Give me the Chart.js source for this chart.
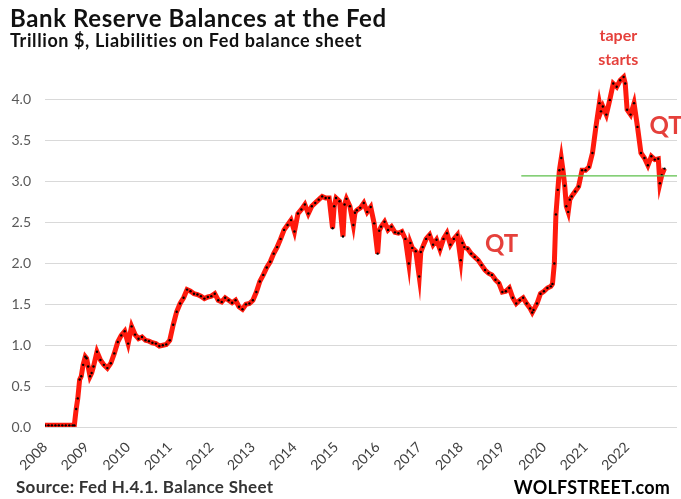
<!DOCTYPE html>
<html>
<head>
<meta charset="utf-8">
<script src="https://cdn.jsdelivr.net/npm/chart.js@4/dist/chart.umd.min.js"></script>
<style>
  html, body { margin: 0; padding: 0; background: #fff; }
  #wrap { position: relative; width: 681px; height: 499px; overflow: hidden; font-family: Lato, "Open Sans", sans-serif; }
  #chart { position: absolute; left: 0; top: 0; }
  .txt { position: absolute; white-space: nowrap; line-height: 1; font-weight: bold; }
  #title { left: 10px; top: 6px; font-size: 24px; letter-spacing: 0.6px; color: #111; }
  #subtitle { left: 10px; top: 31px; font-size: 18px; letter-spacing: 0.6px; color: #111; }
  #source { left: 16px; top: 478px; font-size: 17px; letter-spacing: 0.3px; color: #333; }
  #brand { right: 11px; top: 478px; font-size: 18px; letter-spacing: 0.2px; color: #000; }
</style>
</head>
<body>
<div id="wrap">
  <canvas id="chart" width="681" height="499"></canvas>
  <div class="txt" id="title">Bank Reserve Balances at the Fed</div>
  <div class="txt" id="subtitle">Trillion $, Liabilities on Fed balance sheet</div>
  <div class="txt" id="source">Source: Fed H.4.1. Balance Sheet</div>
  <div class="txt" id="brand">WOLFSTREET.com</div>
</div>
<script>
// ====== データ（週次の読み取り値を月ごとに間引いたもの、兆ドル） ======
const dates = [
  '2008-01-01','2008-02-01','2008-03-01','2008-04-01','2008-05-01','2008-06-01','2008-07-01','2008-08-01','2008-09-01','2008-09-15',
  '2008-10-01','2008-10-15','2008-11-01','2008-11-15','2008-12-01','2008-12-20',
  '2009-01-01','2009-01-15','2009-02-01','2009-02-15','2009-03-01','2009-04-01','2009-05-01','2009-06-01','2009-07-01','2009-08-01','2009-09-01','2009-10-01','2009-11-01','2009-12-01',
  '2010-01-01','2010-02-01','2010-03-01','2010-04-01','2010-05-01','2010-06-01','2010-07-01','2010-08-01','2010-09-01','2010-10-01','2010-11-01','2010-12-01',
  '2011-01-01','2011-02-01','2011-03-01','2011-04-01','2011-05-01','2011-06-01','2011-07-01','2011-08-01','2011-09-01','2011-10-01','2011-11-01','2011-12-01',
  '2012-01-01','2012-02-01','2012-03-01','2012-04-01','2012-05-01','2012-06-01','2012-07-01','2012-08-01','2012-09-01','2012-10-01','2012-11-01','2012-12-01',
  '2013-01-01','2013-02-01','2013-03-01','2013-04-01','2013-05-01','2013-06-01','2013-07-01','2013-08-01','2013-09-01','2013-10-01','2013-11-01','2013-12-01',
  '2014-01-01','2014-02-01','2014-03-01','2014-04-01','2014-05-01','2014-06-01','2014-07-01','2014-08-01','2014-09-01','2014-10-01','2014-11-01','2014-12-01','2014-12-15',
  '2015-01-01','2015-02-01','2015-03-01','2015-03-15','2015-04-01','2015-05-01','2015-06-01','2015-06-15','2015-07-01','2015-08-01','2015-09-01','2015-10-01','2015-11-01','2015-12-01',
  '2016-01-01','2016-01-15','2016-02-01','2016-03-01','2016-04-01','2016-05-01','2016-06-01','2016-07-01','2016-08-01','2016-09-01','2016-10-01','2016-10-15','2016-11-01','2016-12-01',
  '2017-01-01','2017-01-15','2017-02-01','2017-03-01','2017-04-01','2017-05-01','2017-06-01','2017-07-01','2017-08-01','2017-09-01','2017-10-01','2017-11-01','2017-12-01',
  '2018-01-01','2018-01-15','2018-02-01','2018-03-01','2018-04-01','2018-05-01','2018-06-01','2018-07-01','2018-08-01','2018-09-01','2018-10-01','2018-11-01','2018-12-01',
  '2019-01-01','2019-02-01','2019-03-01','2019-04-01','2019-05-01','2019-06-01','2019-07-01','2019-08-01','2019-09-01','2019-09-20','2019-10-01','2019-11-01','2019-12-01',
  '2020-01-01','2020-02-01','2020-03-01','2020-03-15','2020-04-01','2020-04-15','2020-05-01','2020-05-15','2020-06-01','2020-06-15','2020-07-01','2020-07-15','2020-08-01','2020-08-15','2020-09-01','2020-10-01','2020-11-01','2020-12-01',
  '2021-01-01','2021-02-01','2021-03-01','2021-04-01','2021-05-01','2021-05-15','2021-06-01','2021-07-01','2021-08-01','2021-09-01','2021-10-01','2021-11-01','2021-12-01','2021-12-15',
  '2022-01-01','2022-02-01','2022-03-01','2022-04-01','2022-05-01','2022-06-01','2022-07-01','2022-08-01','2022-09-01','2022-10-01','2022-10-15','2022-11-01','2022-11-25'
];
const reserves = [
  0.02,0.02,0.02,0.02,0.02,0.02,0.02,0.02,0.02,0.02,
  0.22,0.35,0.58,0.62,0.76,0.86,
  0.84,0.74,0.62,0.66,0.74,0.92,0.82,0.76,0.72,0.78,0.90,1.04,1.12,1.17,
  1.02,1.23,1.13,1.08,1.10,1.06,1.05,1.03,1.02,0.99,1.00,1.01,
  1.06,1.25,1.41,1.51,1.58,1.68,1.66,1.63,1.62,1.60,1.57,1.59,
  1.60,1.63,1.55,1.53,1.58,1.55,1.52,1.55,1.47,1.44,1.50,1.51,
  1.55,1.65,1.78,1.86,1.95,2.02,2.12,2.20,2.30,2.41,2.47,2.53,
  2.39,2.61,2.66,2.72,2.61,2.70,2.74,2.78,2.82,2.80,2.80,2.43,2.70,
  2.80,2.76,2.33,2.72,2.79,2.70,2.47,2.62,2.65,2.68,2.74,2.63,2.69,2.49,
  2.12,2.40,2.45,2.51,2.41,2.45,2.38,2.37,2.39,2.30,2.00,2.25,2.19,2.15,
  1.84,2.14,2.20,2.30,2.35,2.23,2.29,2.17,2.30,2.37,2.23,2.30,2.35,
  2.04,2.25,2.20,2.18,2.12,2.08,2.04,1.98,1.92,1.88,1.86,1.80,1.76,
  1.65,1.66,1.70,1.58,1.51,1.55,1.58,1.51,1.45,1.40,1.43,1.51,1.63,
  1.66,1.70,1.72,1.75,2.00,2.60,2.90,3.14,3.29,3.15,2.95,2.70,2.63,2.78,2.82,2.88,2.94,3.14,
  3.14,3.18,3.35,3.67,3.96,3.86,3.92,3.82,4.00,4.20,4.16,4.24,4.28,4.20,
  3.88,3.82,3.96,3.67,3.35,3.29,3.20,3.31,3.27,3.28,2.98,3.08,3.16
];

// 緑の水平線（約3.07兆ドル）
const levelLine = 3.07;
const levelFrom = '2019-06-15';

// 軸
const yearTicks = [2008,2009,2010,2011,2012,2013,2014,2015,2016,2017,2018,2019,2020,2021,2022];
const xMin = 2008, xMax = 2023.2;
const yMin = 0, yMax = 4.5, yTopTick = 4.0;

// 注釈
const notes = [
  { text: 'taper', date: '2021-10-15', value: 4.78, size: 16, align: 'center' },
  { text: 'starts', date: '2021-10-15', value: 4.49, size: 16, align: 'center' },
  { text: 'QT', date: '2018-08-01', value: 2.24, size: 24, align: 'left' },
  { text: 'QT', date: '2022-07-15', value: 3.68, size: 24, align: 'left' }
];

// 日付 → 年（小数）
function toYear(s) {
    const [y, m, d] = s.split('-').map(Number);
    return y + (m - 1) / 12 + (d - 1) / 365;
}

const points = dates.map((d, i) => ({ x: toYear(d), y: reserves[i] }));

// 注釈を描くプラグイン
const notePlugin = {
    id: 'notes',
    afterDatasetsDraw(chart) {
        const { ctx, scales } = chart;
        ctx.save();
        ctx.fillStyle = '#e5403b';
        ctx.textBaseline = 'middle';
        notes.forEach(n => {
            ctx.font = `bold ${n.size}px Lato, sans-serif`;
            ctx.textAlign = n.align;
            ctx.fillText(n.text, scales.x.getPixelForValue(toYear(n.date)), scales.y.getPixelForValue(n.value));
        });
        ctx.restore();
    }
};

const ctx = document.getElementById('chart').getContext('2d');
new Chart(ctx, {
    type: 'line',
    data: {
        datasets: [
            {
                data: [{ x: toYear(levelFrom), y: levelLine }, { x: xMax, y: levelLine }],
                borderColor: '#5cbf4a',
                borderWidth: 1.3,
                pointRadius: 0,
                order: 0
            },
            {
                data: points,
                borderColor: '#ff1a0d',
                borderWidth: 5,
                pointRadius: 1.2,
                pointBackgroundColor: '#000',
                pointBorderWidth: 0,
                tension: 0,
                order: 1
            }
        ]
    },
    options: {
        responsive: false,
        animation: false,
        devicePixelRatio: 1,
        layout: { padding: { top: 59, right: 2, left: 0, bottom: 0 } },
        plugins: { legend: { display: false }, tooltip: { enabled: false } },
        scales: {
            x: {
                type: 'linear',
                min: xMin,
                max: xMax,
                afterFit(s) { s.height = 72; },
                afterBuildTicks(s) { s.ticks = yearTicks.map(v => ({ value: v })); },
                ticks: {
                    autoSkip: false,
                    minRotation: 45,
                    maxRotation: 45,
                    padding: 4,
                    color: '#404040',
                    font: { family: 'Lato', size: 14 },
                    callback: v => String(v)
                },
                grid: { display: false },
                border: { display: false }
            },
            y: {
                min: yMin,
                max: yMax,
                afterFit(s) { s.width = 45; },
                afterBuildTicks(s) { s.ticks = s.ticks.filter(t => t.value <= yTopTick + 1e-9); },
                ticks: {
                    stepSize: 0.5,
                    padding: 14,
                    color: '#595959',
                    font: { family: 'Lato', size: 14 },
                    callback: v => Number(v).toFixed(1)
                },
                grid: { color: '#d9d9d9', lineWidth: 1, drawTicks: false },
                border: { display: false }
            }
        }
    },
    plugins: [notePlugin]
});
</script>
</body>
</html>
